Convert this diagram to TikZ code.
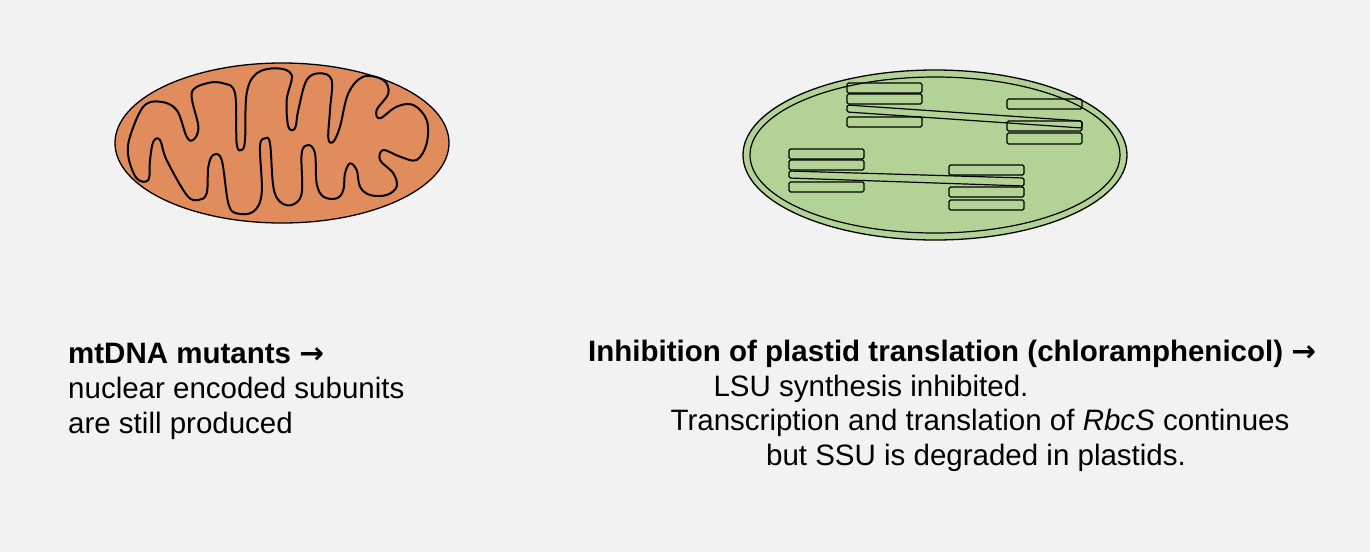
\documentclass[tikz,border=0pt]{standalone}
\usepackage{fontspec}
\usetikzlibrary{shapes.geometric}
\setmainfont{Liberation Sans}
\newfontfamily\symf{DejaVu Sans}
\begin{document}
\begin{tikzpicture}[x=1pt,y=-1pt,
  txt/.style={font=\fontsize{29.5}{34}\selectfont, inner sep=0pt},
  thy/.style={draw=black, line width=1.2pt, fill=none, rounded corners=1.5pt}]
\useasboundingbox[fill={rgb,255:red,242;green,242;blue,242}] (0,0) rectangle (1370,552);
% mitochondrion
\node[ellipse, draw=black, line width=1.3pt, fill={rgb,255:red,224;green,140;blue,92}, minimum width=334pt, minimum height=160pt, inner sep=0pt] (mito) at (282,143) {};
\begin{scope}[shift={(110,60)}, scale=1/3]
\draw[line width=2pt, line join=round] plot[smooth cycle, tension=0.6] coordinates {
(60,230) (100,140) (150,125) (200,150) (230,230) (250,240) (265,200) (245,100) (290,70) (340,70) (375,100) (380,250) (395,270) (405,240) (410,100) (440,40) (500,25) (545,45) (530,120) (535,200) (555,205) (565,150) (590,60) (630,40) (665,60) (660,150) (655,235) (670,245) (690,200) (715,100) (760,50) (820,60) (835,100) (800,150) (810,175) (860,140) (910,135) (950,180) (950,250) (920,300) (870,290) (820,270) (810,300) (850,340) (860,380) (830,405) (780,405) (750,380) (740,330) (720,310) (705,340) (700,390) (680,415) (640,410) (620,370) (615,280) (595,255) (575,280) (575,400) (545,435) (510,425) (490,380) (480,250) (465,235) (450,260) (455,400) (430,455) (380,460) (355,430) (335,300) (310,285) (295,320) (290,400) (265,420) (230,405) (170,300) (150,240) (130,245) (120,300) (115,360) (80,355) (55,290)};
\end{scope}
% chloroplast
\node[ellipse, draw=black, line width=1.3pt, fill={rgb,255:red,179;green,210;blue,150}, minimum width=384pt, minimum height=170pt, inner sep=0pt] (chl) at (935,155) {};
\node[ellipse, draw=black, line width=1.2pt, minimum width=370pt, minimum height=156pt, inner sep=0pt] (chlin) at (935,155) {};
% stack 1
\draw[thy] (847,83) rectangle (922,93);
\draw[thy] (847,94) rectangle (922,104);
\draw[thy] (847,117) rectangle (922,127);
\draw[thy] (847,105) -- (1082,121) -- (1082,128) -- (847,112) -- cycle;
\draw[thy] (1007,99) rectangle (1082,109);
\draw[thy] (1007,121) rectangle (1082,131);
\draw[thy] (1007,133) rectangle (1082,144);
% stack 2
\draw[thy] (789,149) rectangle (864,159);
\draw[thy] (789,160) rectangle (864,170);
\draw[thy] (789,182) rectangle (864,192);
\draw[thy] (789,171) -- (1024,178) -- (1024,186) -- (789,178) -- cycle;
\draw[thy] (949,165) rectangle (1024,175);
\draw[thy] (949,187) rectangle (1024,197);
\draw[thy] (949,200) rectangle (1024,210);
% texts
\node[txt, anchor=base west] (t1) at (68,363) {\textbf{mtDNA mutants} {\symf\bfseries →}};
\node[txt, anchor=base west] (t2) at (68,398) {nuclear encoded subunits};
\node[txt, anchor=base west] (t3) at (68,433) {are still produced};
\node[txt, anchor=base west] (r1) at (588,361) {\textbf{Inhibition of plastid translation (chloramphenicol)} {\symf\bfseries →}};
\node[txt, anchor=base] (r2) at (871,396) {LSU synthesis inhibited.};
\node[txt, anchor=base] (r3) at (980,430) {Transcription and translation of \textit{RbcS} continues};
\node[txt, anchor=base] (r4) at (976,465) {but SSU is degraded in plastids.};
\end{tikzpicture}
\end{document}
